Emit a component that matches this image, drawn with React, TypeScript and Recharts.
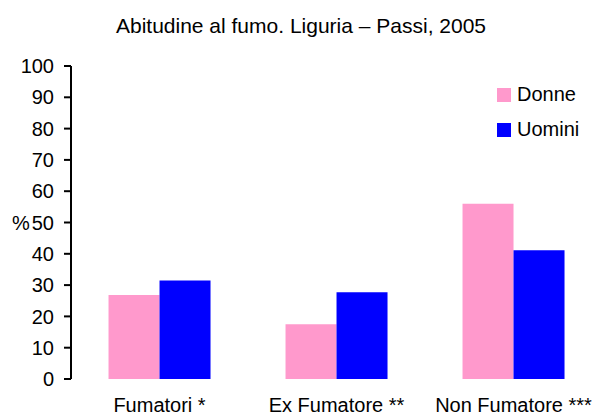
import React from 'react';
import { BarChart, Bar, XAxis, YAxis } from 'recharts';

const categories = ['Fumatori *', 'Ex Fumatore **', 'Non Fumatore ***'];
const donne = [26.8, 17.5, 56.0];
const uomini = [31.5, 27.7, 41.1];
const yTicks = [0, 10, 20, 30, 40, 50, 60, 70, 80, 90, 100];
const seriesNames = ['Donne', 'Uomini'];
const seriesColors = ['#FF99CC', '#0000FF'];
const title = 'Abitudine al fumo. Liguria – Passi, 2005';

const data = categories.map((c, i) => ({ name: c, Donne: donne[i], Uomini: uomini[i] }));

const FONT = '"Liberation Sans", Arial, sans-serif';

export default function App() {
  return (
    <div
      style={{
        position: 'absolute',
        left: 0,
        top: 0,
        width: 600,
        height: 417,
        overflow: 'hidden',
        background: '#fff',
        fontFamily: FONT,
      }}
    >
      <div
        style={{
          position: 'absolute',
          left: 0,
          width: 602,
          top: 15,
          textAlign: 'center',
          fontSize: 21,
          lineHeight: '21px',
          color: '#000',
        }}
      >
        {title}
      </div>
      <BarChart
        width={610}
        height={417}
        data={data}
        margin={{ top: 66, right: 8, bottom: 0, left: 0 }}
        barCategoryGap="21.2%"
        barGap={0}
      >
        <XAxis
          dataKey="name"
          axisLine={false}
          tickLine={false}
          tickSize={6}
          tickMargin={13}
          height={38}
          interval={0}
          tick={{ fill: '#000', fontSize: 20, fontFamily: FONT }}
        />
        <YAxis
          domain={[0, 100]}
          ticks={yTicks}
          interval={0}
          width={71}
          tickSize={7}
          tickMargin={10}
          axisLine={{ stroke: '#000', strokeWidth: 2 }}
          tickLine={{ stroke: '#000', strokeWidth: 2 }}
          tick={{ fill: '#000', fontSize: 20, fontFamily: FONT }}
          label={{ value: '%', position: 'insideLeft', offset: 12, fill: '#000', fontSize: 20, fontFamily: FONT }}
        />
        {seriesNames.map((s, i) => (
          <Bar key={s} dataKey={s} fill={seriesColors[i]} isAnimationActive={false} />
        ))}
      </BarChart>
      <div style={{ position: 'absolute', left: 497, top: 77 }}>
        {seriesNames.map((s, i) => (
          <div key={s} style={{ display: 'flex', alignItems: 'center', height: 35 }}>
            <div style={{ width: 14, height: 14, background: seriesColors[i], marginRight: 6 }} />
            <span style={{ fontSize: 20, color: '#000', lineHeight: '35px' }}>{s}</span>
          </div>
        ))}
      </div>
    </div>
  );
}
